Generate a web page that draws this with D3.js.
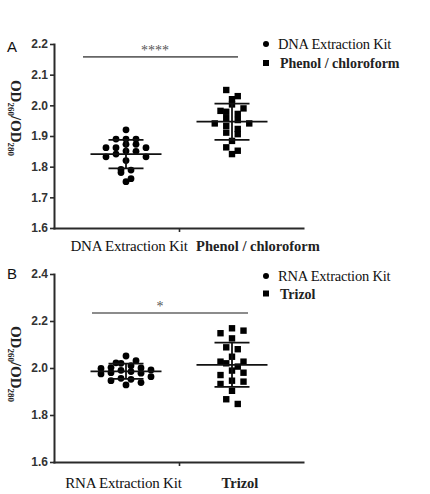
<!DOCTYPE html>
<html lang="en">
<head>
<meta charset="UTF-8">
<title>OD260/OD280</title>
<script src="https://d3js.org/d3.v7.min.js"></script>
<style>
  body { margin: 0; background: #fff; }
  .tick text { font-family: "Liberation Sans", Arial, sans-serif; font-weight: bold; font-size: 12px; fill: #333; }
</style>
</head>
<body>
<script>
// ---- data ----
var groupsA = ["DNA Extraction Kit", "Phenol / chloroform"];
var groupsB = ["RNA Extraction Kit", "Trizol"];

var dnaKit = [1.920, 1.890, 1.890, 1.890, 1.873, 1.873, 1.862, 1.862, 1.862, 1.851,
              1.850, 1.841, 1.832, 1.832, 1.820, 1.791, 1.789, 1.781, 1.761, 1.751];
var phenol = [2.050, 2.030, 2.020, 2.003, 1.990, 1.982, 1.979, 1.972, 1.958, 1.952,
              1.941, 1.941, 1.933, 1.923, 1.911, 1.906, 1.884, 1.863, 1.852, 1.841];
var rnaKit = [2.051, 2.031, 2.022, 2.020, 2.010, 2.002, 2.000, 1.998, 1.992, 1.990,
              1.985, 1.980, 1.978, 1.975, 1.963, 1.956, 1.952, 1.946, 1.938, 1.928];
var trizol = [2.169, 2.159, 2.148, 2.126, 2.088, 2.080, 2.048, 2.027, 2.027, 2.020,
              2.006, 1.989, 1.980, 1.970, 1.946, 1.942, 1.932, 1.903, 1.867, 1.847];

var ticksA = [1.6, 1.7, 1.8, 1.9, 2.0, 2.1, 2.2];
var ticksB = [1.6, 1.8, 2.0, 2.2, 2.4];
var starsA = "****";
var starsB = "*";

// ---- layout ----
var width = 430, height = 494;
var axisLeftX = 54, axisRightX = 303;
var groupX = [126, 232];
var meanHalf = 35.5, sdHalf = 17.5;
var binPx = 7, stepPx = [10, 11.5];

var panels = [
  { letter: "A", letterY: 52, top: 44, bottom: 228, domain: [1.6, 2.2], ticks: ticksA,
    groups: groupsA, series: [dnaKit, phenol], stars: starsA,
    sigValue: 2.158, sigX: [83, 238], starX: 155, starY: 55,
    labelY: 250.5, labelDx: [3, 26], titleY: 118, legendY: [44, 63] },
  { letter: "B", letterY: 279, top: 274, bottom: 462, domain: [1.6, 2.4], ticks: ticksB,
    groups: groupsB, series: [rnaKit, trizol], stars: starsB,
    sigValue: 2.234, sigX: [92, 248], starX: 160, starY: 311,
    labelY: 488, labelDx: [-2.5, 8], titleY: 364, legendY: [276, 293.5] }
];

var svg = d3.select("body")
  .append("svg")
  .attr("width", width)
  .attr("height", height)
  .style("background", "#fff");

// spread points horizontally in rows (like a column scatter)
function swarm(values, y, step) {
  var pts = values.map(function (v, k) { return { v: v, k: k, py: y(v) }; });
  var y0 = d3.min(pts, function (d) { return d.py; });
  var offsets = new Array(values.length).fill(0);
  d3.groups(pts, function (d) { return Math.floor((d.py - y0) / binPx); })
    .forEach(function (bin) {
      var list = bin[1];
      var n = list.length;
      var slot = Math.floor((n - 1) / 2), order = [slot];
      for (var s = 1; order.length < n; s++) {
        var a = slot + s, b = slot - s;
        if (a < n) order.push(a);
        if (b >= 0 && order.length < n) order.push(b);
      }
      list.forEach(function (d, j) {
        offsets[d.k] = (order[j] - (n - 1) / 2) * step;
      });
    });
  return offsets;
}

panels.forEach(function (p) {
  var g = svg.append("g");
  var y = d3.scaleLinear().domain(p.domain).range([p.bottom, p.top]);
  var x = d3.scaleLinear().domain([0, 1]).range(groupX);
  var xAxisScale = d3.scaleLinear()
    .domain([x.invert(axisLeftX), x.invert(axisRightX)])
    .range([axisLeftX, axisRightX]);

  // axes
  var ya = g.append("g")
    .attr("transform", "translate(" + axisLeftX + ",0)")
    .call(d3.axisLeft(y).tickValues(p.ticks).tickFormat(d3.format(".1f"))
      .tickSize(4).tickSizeOuter(0).tickPadding(2));
  var xa = g.append("g")
    .attr("transform", "translate(0," + p.bottom + ")")
    .call(d3.axisBottom(xAxisScale).tickValues([0.5]).tickFormat("")
      .tickSize(4).tickSizeOuter(0));
  [ya, xa].forEach(function (a) {
    a.select(".domain").attr("stroke", "#2a2a2a").attr("stroke-width", 2)
      .attr("stroke-linecap", "square");
    a.selectAll(".tick line").attr("stroke", "#2a2a2a").attr("stroke-width", 1.6);
  });

  // panel letter
  g.append("text")
    .attr("x", 7).attr("y", p.letterY)
    .style("font-family", "Liberation Sans, Arial, sans-serif")
    .style("font-size", "15px")
    .style("fill", "#111")
    .text(p.letter);

  // y title, reads top to bottom
  var t = g.append("text")
    .attr("transform", "translate(11," + p.titleY + ") rotate(90)")
    .attr("text-anchor", "middle")
    .style("font-family", "Liberation Serif, Times New Roman, serif")
    .style("font-weight", "bold")
    .style("font-size", "15px")
    .style("fill", "#222");
  t.append("tspan").text("OD");
  t.append("tspan").attr("dy", 3).style("font-size", "9px").text("260");
  t.append("tspan").attr("dy", -3).text("/OD");
  t.append("tspan").attr("dy", 3).style("font-size", "9px").text("280");

  // points
  p.series.forEach(function (vals, i) {
    var off = swarm(vals, y, stepPx[i]);
    var cx = x(i);
    if (i === 0) {
      g.selectAll("circle.g" + i)
        .data(vals).enter().append("circle")
        .attr("class", "g" + i)
        .attr("cx", function (d, k) { return cx + off[k]; })
        .attr("cy", function (d) { return y(d); })
        .attr("r", 3.4)
        .attr("fill", "#000");
    } else {
      g.selectAll("rect.g" + i)
        .data(vals).enter().append("rect")
        .attr("class", "g" + i)
        .attr("x", function (d, k) { return cx + off[k] - 3.2; })
        .attr("y", function (d) { return y(d) - 3.2; })
        .attr("width", 6.4).attr("height", 6.4)
        .attr("fill", "#000");
    }

    // mean and SD
    var m = d3.mean(vals), sd = d3.deviation(vals);
    var segs = [
      [cx - meanHalf, y(m), cx + meanHalf, y(m)],
      [cx - sdHalf, y(m + sd), cx + sdHalf, y(m + sd)],
      [cx - sdHalf, y(m - sd), cx + sdHalf, y(m - sd)],
      [cx, y(m + sd), cx, y(m - sd)]
    ];
    g.selectAll("line.stat" + i)
      .data(segs).enter().append("line")
      .attr("class", "stat" + i)
      .attr("x1", function (d) { return d[0]; })
      .attr("y1", function (d) { return d[1]; })
      .attr("x2", function (d) { return d[2]; })
      .attr("y2", function (d) { return d[3]; })
      .attr("stroke", "#111")
      .attr("stroke-width", 1.8);

    // category label
    g.append("text")
      .attr("x", cx + p.labelDx[i]).attr("y", p.labelY)
      .attr("text-anchor", "middle")
      .style("font-family", "Liberation Serif, Times New Roman, serif")
      .style("font-weight", i === 0 ? "normal" : "bold")
      .style("font-size", i === 0 ? "15px" : "14.5px")
      .style("letter-spacing", i === 0 ? "-0.2px" : "0px")
      .style("fill", i === 0 ? "#111" : "#222")
      .text(p.groups[i]);

    // legend
    var ly = p.legendY[i];
    if (i === 0) {
      g.append("circle").attr("cx", 266).attr("cy", ly).attr("r", 3).attr("fill", "#000");
    } else {
      g.append("rect").attr("x", 263).attr("y", ly - 3).attr("width", 6).attr("height", 6).attr("fill", "#000");
    }
    g.append("text")
      .attr("x", i === 0 ? 278 : 280).attr("y", ly + 5)
      .style("font-family", "Liberation Serif, Times New Roman, serif")
      .style("font-weight", i === 0 ? "normal" : "bold")
      .style("font-size", i === 0 ? "14.5px" : "14px")
      .style("letter-spacing", i === 0 ? "-0.2px" : "0px")
      .style("fill", i === 0 ? "#111" : "#222")
      .text(p.groups[i]);
  });

  // significance bar
  g.append("line")
    .attr("x1", p.sigX[0]).attr("x2", p.sigX[1])
    .attr("y1", y(p.sigValue)).attr("y2", y(p.sigValue))
    .attr("stroke", "#666").attr("stroke-width", 1.6);
  g.append("text")
    .attr("x", p.starX).attr("y", p.starY)
    .attr("text-anchor", "middle")
    .style("font-family", "Liberation Serif, Times New Roman, serif")
    .style("font-size", "14px")
    .style("fill", "#555")
    .text(p.stars);
});
</script>
</body>
</html>
